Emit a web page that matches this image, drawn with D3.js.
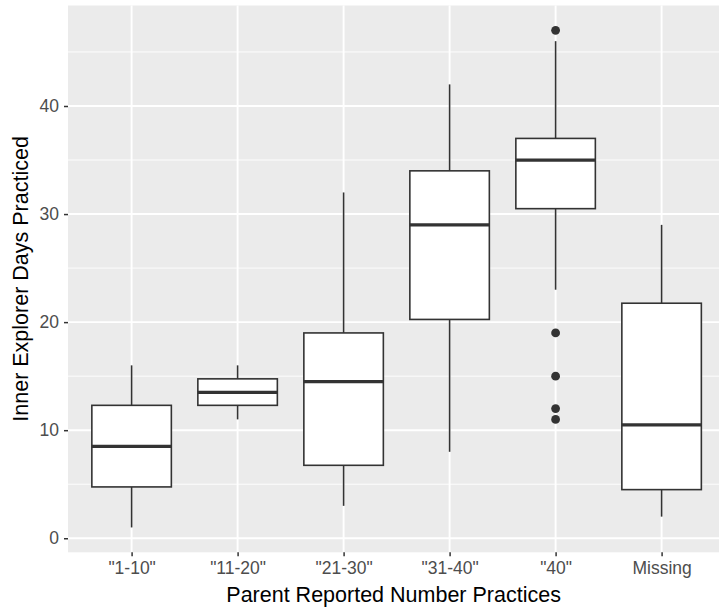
<!DOCTYPE html>
<html>
<head>
<meta charset="utf-8">
<script src="https://d3js.org/d3.v7.min.js"></script>
<style>
  body { margin: 0; background: #fff; }
  text { font-family: "Liberation Sans", Arial, Helvetica, sans-serif; }
</style>
</head>
<body>
<div class="boxchart"></div>
<script>
// data
var categories = ['"1-10"', '"11-20"', '"21-30"', '"31-40"', '"40"', "Missing"];
var whiskerLow = [1, 11, 3, 8, 23, 2];
var q1 = [4.75, 12.3, 6.75, 20.25, 30.5, 4.5];
var medians = [8.5, 13.5, 14.5, 29, 35, 10.5];
var q3 = [12.3, 14.75, 19, 34, 37, 21.75];
var whiskerHigh = [16, 16, 32, 42, 46, 29];
var outliers = [
  { cat: '"40"', value: 47 },
  { cat: '"40"', value: 19 },
  { cat: '"40"', value: 15 },
  { cat: '"40"', value: 12 },
  { cat: '"40"', value: 11 }
];
var yTicks = [0, 10, 20, 30, 40];
var yMinor = [5, 15, 25, 35, 45];

var svgWidth = 719;
var svgHeight = 609;

// panel box (the right side runs off the picture, like the reference)
var panel = { left: 68, top: 5.5, right: 725.2, bottom: 552.3 };

var svg = d3
  .select(".boxchart")
  .append("svg")
  .attr("width", svgWidth)
  .attr("height", svgHeight);

var boxes = categories.map(function(c, i) {
  return {
    cat: c,
    lo: whiskerLow[i],
    q1: q1[i],
    med: medians[i],
    q3: q3[i],
    hi: whiskerHigh[i]
  };
});

// scales
var xScale = d3.scalePoint()
  .domain(categories)
  .range([panel.left, panel.right])
  .padding(0.6);

var yScale = d3.scaleLinear()
  .domain([-1.3, 49.3])
  .range([panel.bottom, panel.top]);

var boxWidth = xScale.step() * 0.75;

// grey panel
svg.append("rect")
  .attr("x", panel.left)
  .attr("y", panel.top)
  .attr("width", panel.right - panel.left)
  .attr("height", panel.bottom - panel.top)
  .attr("fill", "#ebebeb");

// grid lines
svg.append("g").selectAll("line")
  .data(yMinor)
  .enter()
  .append("line")
  .attr("x1", panel.left)
  .attr("x2", panel.right)
  .attr("y1", d => yScale(d))
  .attr("y2", d => yScale(d))
  .attr("stroke", "#fff")
  .attr("stroke-width", 0.9);

svg.append("g").selectAll("line")
  .data(yTicks)
  .enter()
  .append("line")
  .attr("x1", panel.left)
  .attr("x2", panel.right)
  .attr("y1", d => yScale(d))
  .attr("y2", d => yScale(d))
  .attr("stroke", "#fff")
  .attr("stroke-width", 1.9);

svg.append("g").selectAll("line")
  .data(categories)
  .enter()
  .append("line")
  .attr("x1", d => xScale(d))
  .attr("x2", d => xScale(d))
  .attr("y1", panel.top)
  .attr("y2", panel.bottom)
  .attr("stroke", "#fff")
  .attr("stroke-width", 1.9);

// axes
var bottomAxis = d3.axisBottom(xScale).tickSizeInner(4).tickSizeOuter(0).tickPadding(5);
var leftAxis = d3.axisLeft(yScale).tickValues(yTicks).tickSizeInner(4).tickSizeOuter(0).tickPadding(5);

var xAxis = svg.append("g")
  .attr("transform", `translate(0, ${panel.bottom})`)
  .call(bottomAxis);

var yAxis = svg.append("g")
  .attr("transform", `translate(${panel.left}, 0)`)
  .call(leftAxis);

[xAxis, yAxis].forEach(function(ax) {
  ax.select(".domain").remove();
  ax.selectAll(".tick line").attr("stroke", "#333").attr("stroke-width", 1.5);
  ax.selectAll(".tick text")
    .attr("fill", "#4d4d4d")
    .attr("font-size", "17.5px")
    .style("font-family", '"Liberation Sans", Arial, sans-serif');
});

// boxes
var boxGroup = svg.append("g").selectAll("g")
  .data(boxes)
  .enter()
  .append("g");

// upper and lower whiskers
boxGroup.append("line")
  .attr("x1", d => xScale(d.cat))
  .attr("x2", d => xScale(d.cat))
  .attr("y1", d => yScale(d.q3))
  .attr("y2", d => yScale(d.hi))
  .attr("stroke", "#333")
  .attr("stroke-width", 1.6);

boxGroup.append("line")
  .attr("x1", d => xScale(d.cat))
  .attr("x2", d => xScale(d.cat))
  .attr("y1", d => yScale(d.q1))
  .attr("y2", d => yScale(d.lo))
  .attr("stroke", "#333")
  .attr("stroke-width", 1.6);

boxGroup.append("rect")
  .attr("x", d => xScale(d.cat) - boxWidth / 2)
  .attr("y", d => yScale(d.q3))
  .attr("width", boxWidth)
  .attr("height", d => yScale(d.q1) - yScale(d.q3))
  .attr("fill", "#fff")
  .attr("stroke", "#333")
  .attr("stroke-width", 1.6);

boxGroup.append("line")
  .attr("x1", d => xScale(d.cat) - boxWidth / 2)
  .attr("x2", d => xScale(d.cat) + boxWidth / 2)
  .attr("y1", d => yScale(d.med))
  .attr("y2", d => yScale(d.med))
  .attr("stroke", "#333")
  .attr("stroke-width", 3.2);

// outlier points
svg.append("g").selectAll("circle")
  .data(outliers)
  .enter()
  .append("circle")
  .attr("cx", d => xScale(d.cat))
  .attr("cy", d => yScale(d.value))
  .attr("r", 4.4)
  .attr("fill", "#333");

// axis titles
svg.append("text")
  .attr("x", (panel.left + panel.right) / 2 - 3)
  .attr("y", 602)
  .attr("text-anchor", "middle")
  .attr("font-size", "21.5px")
  .attr("fill", "#000")
  .text("Parent Reported Number Practices");

svg.append("text")
  .attr("transform", `translate(28, ${(panel.top + panel.bottom) / 2}) rotate(-90)`)
  .attr("text-anchor", "middle")
  .attr("font-size", "21.5px")
  .attr("fill", "#000")
  .text("Inner Explorer Days Practiced");
</script>
</body>
</html>
